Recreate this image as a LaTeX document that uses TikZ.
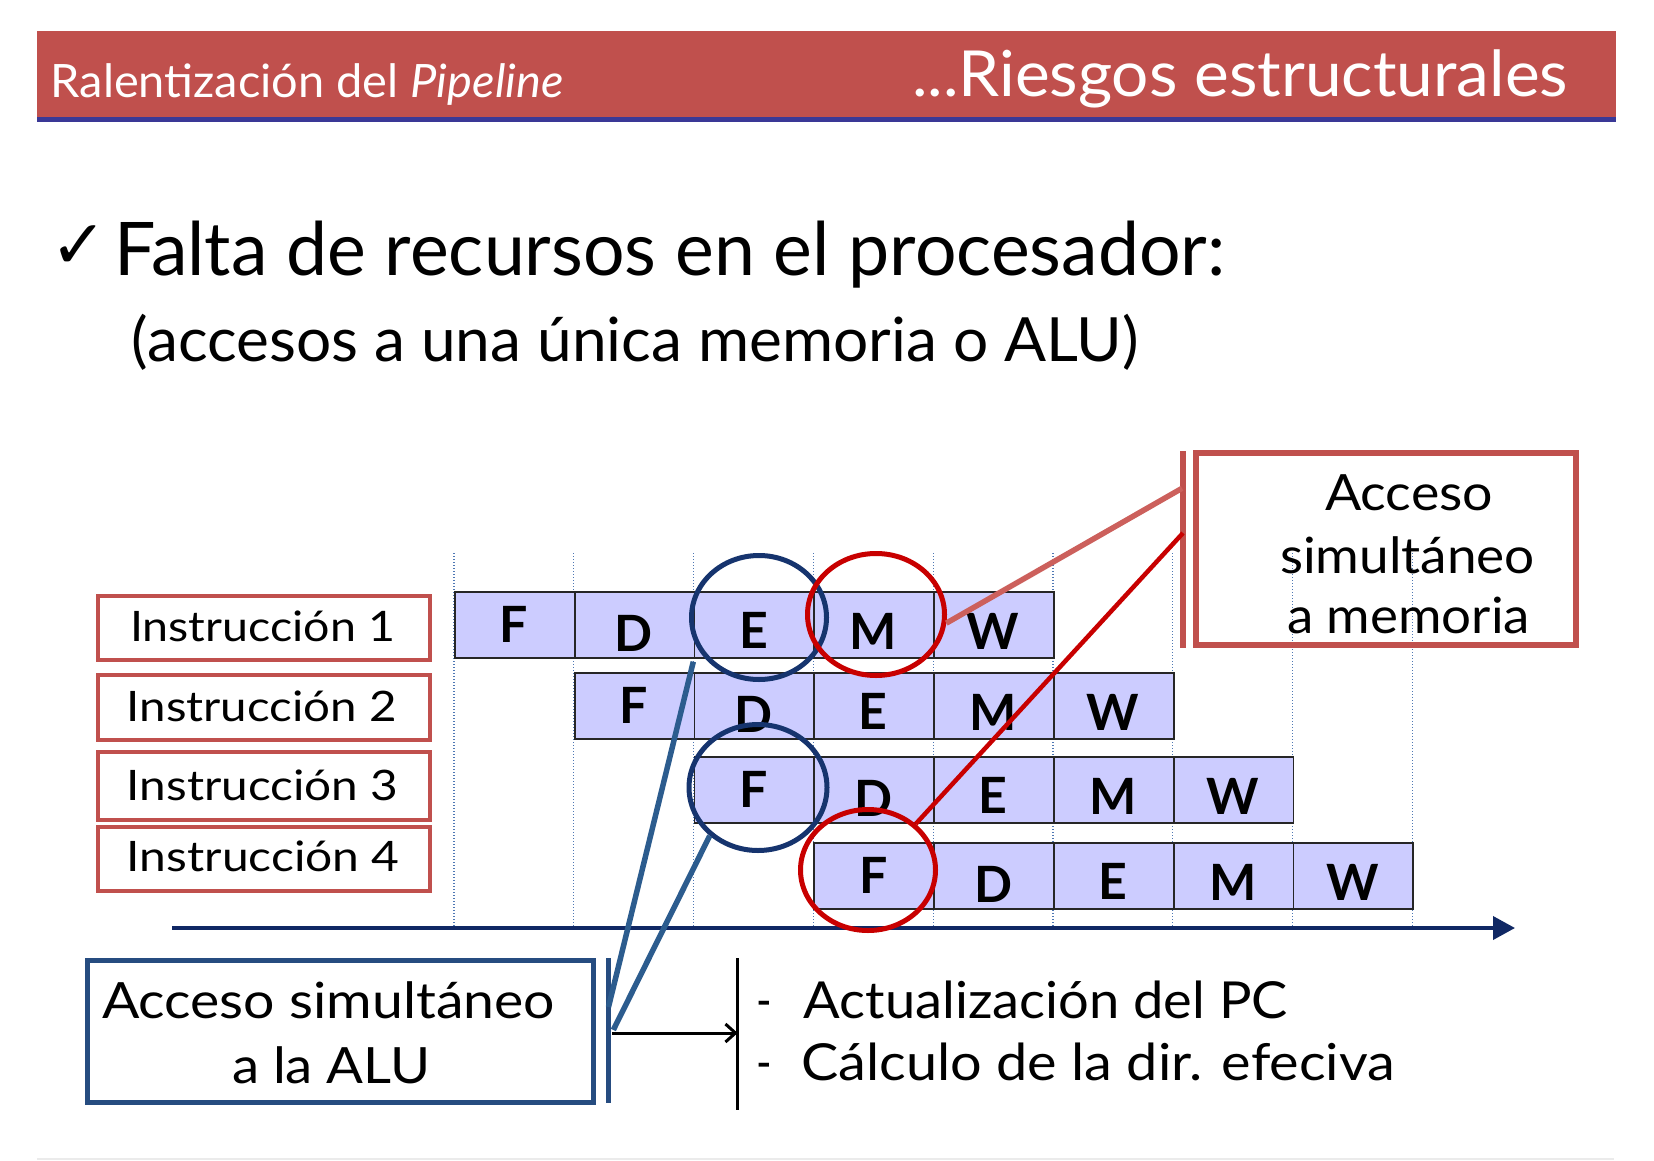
\documentclass[tikz,border=0pt]{standalone}
\usepackage{fontspec}
\usepackage{graphicx}
\setmainfont{Lato}
\newfontfamily\symfont{DejaVu Sans}
\usetikzlibrary{shapes.geometric,arrows.meta}

\definecolor{hdrred}{RGB}{192,80,77}
\definecolor{hdrblue}{RGB}{58,56,150}
\definecolor{cellfill}{RGB}{204,204,255}
\definecolor{gridblue}{RGB}{79,120,180}
\definecolor{navy}{RGB}{22,52,110}
\definecolor{axisblue}{RGB}{16,40,100}
\definecolor{hazred}{RGB}{200,0,0}
\definecolor{softred}{RGB}{204,96,92}
\definecolor{steel}{RGB}{44,92,142}
\definecolor{boxblue}{RGB}{38,76,128}

% text set at size #2 (pt) and stretched to width #1 (pt), height kept
\newcommand\fitw[3]{{\fontsize{#2pt}{#2pt}\selectfont\resizebox{#1pt}{\height}{#3}}}

\tikzset{
  txt/.style={inner sep=0pt, outer sep=0pt, anchor=base west},
  cell/.style={draw=black!85, fill=cellfill, line width=1.8pt, inner sep=0pt,
    minimum width=119.8pt, minimum height=66pt, anchor=north west},
  stage/.style={inner sep=0pt, anchor=base, font=\fontsize{50pt}{50pt}\selectfont\bfseries},
  grid/.style={gridblue, line width=1.3pt, dash pattern=on 1.4pt off 1.6pt},
  ibox/.style={draw=hdrred, line width=4pt, inner sep=0pt, minimum width=331.7pt},
  hazard/.style={ellipse, draw=#1, line width=5pt, inner sep=0pt},
}

\begin{document}
\begin{tikzpicture}[x=1pt,y=-1pt]
\useasboundingbox (0,0) rectangle (1654,1161);
\fill[white] (0,0) rectangle (1654,1161);

% title band
\node[fill=hdrred, inner sep=0pt, minimum width=1579pt, minimum height=86pt, anchor=north west] (hdr) at (37,31) {};
\node[fill=hdrblue, inner sep=0pt, minimum width=1579pt, minimum height=5pt, anchor=north west] (hdrline) at (37,117) {};
\node[txt, white] (hl) at (50.6,98) {\fitw{513}{46}{Ralentización del \textit{Pipeline}}};
\node[txt, white] (hr) at (912,97) {\fitw{656}{63.5}{...Riesgos estructurales}};

% heading
\node[txt] (chk) at (50,268) {\fontsize{68pt}{68pt}\symfont ✓};
\node[txt] (head) at (114.6,275) {\fitw{1111}{74}{Falta de recursos en el procesador:}};
\node[txt] (sub) at (131.8,361.7) {\fitw{1007}{61}{(accesos a una única memoria o ALU)}};

% clock-cycle grid
\foreach \k in {0,...,8}
  \draw[grid] (454+\k*119.8,553) -- (454+\k*119.8,928);

% instruction labels
\node[ibox, minimum height=64.3pt] (i1) at (263.85,628.15) {};
\node[ibox, minimum height=64.4pt] (i2) at (263.85,707.5) {};
\node[ibox, minimum height=67.7pt] (i3) at (263.85,785.85) {};
\node[ibox, minimum height=64.3pt] (i4) at (263.85,859.15) {};
\node[txt] (i1t) at (130,641.7) {\fitw{265}{42}{Instrucción 1}};
\node[txt] (i2t) at (126.7,721.7) {\fitw{270}{42}{Instrucción 2}};
\node[txt] (i3t) at (126.7,800) {\fitw{271.5}{42}{Instrucción 3}};
\node[txt] (i4t) at (126.7,871.7) {\fitw{273}{42}{Instrucción 4}};

% pipeline stages
\foreach \ri/\ytop in {0/591,1/672.3,2/756,3/842} {
  \foreach \si/\L/\dy in {0/F/51,1/D/60,2/E/57,3/M/58,4/W/58} {
    \pgfmathsetmacro\xl{454+(\ri+\si)*119.8}
    \node[cell] (c\ri\si) at (\xl,\ytop) {};
    \node[stage] (s\ri\si) at (\xl+59.9,\ytop+\dy) {\L};
  }
}

% time axis
\coordinate (ax0) at (172,928);
\coordinate (ax1) at (1515,928);
\draw[axisblue, line width=3.8pt, -{Triangle[length=22pt,width=23pt]}] (ax0) -- (ax1);

% hazard marks
\node[hazard=navy, minimum width=135pt, minimum height=124pt] (cE1) at (759,617.5) {};
\node[hazard=navy, minimum width=138pt, minimum height=126pt] (cF3) at (758,787.5) {};
\node[hazard=hazred, minimum width=137pt, minimum height=122pt] (cM1) at (876,614.5) {};
\node[hazard=hazred, minimum width=135pt, minimum height=121pt] (cF4) at (868,870) {};

% memory callout
\node[draw=hdrred, line width=6pt, inner sep=0pt, minimum width=380pt, minimum height=192pt] (mem) at (1386,549) {};
\node[fill=hdrred, inner sep=0pt, minimum width=6pt, minimum height=197pt] (membar) at (1182.7,549.5) {};
\node[txt] (mem1) at (1325,510) {\fitw{168}{50}{Acceso}};
\node[txt] (mem2) at (1280,573) {\fitw{255}{50}{simultáneo}};
\node[txt] (mem3) at (1287,633) {\fitw{243}{50}{a memoria}};
\coordinate (memA) at (1182,488.3);
\coordinate (memB) at (1183,533);
\draw[softred, line width=5.5pt] (cM1.-7) -- (memA);
\draw[hazred, line width=4.5pt] (cF4.44) -- (memB);

% ALU callout
\node[draw=boxblue, line width=5pt, inner sep=0pt, minimum width=506.2pt, minimum height=142pt] (alu) at (340.1,1031.5) {};
\node[fill=boxblue, inner sep=0pt, minimum width=5pt, minimum height=145pt] (alubar) at (608.3,1030.5) {};
\node[txt] (alu1) at (102,1018) {\fitw{453}{50}{Acceso simultáneo}};
\node[txt] (alu2) at (232,1083) {\fitw{198.5}{50}{a la ALU}};
\coordinate (aluTop) at (693.3,661.7);
\coordinate (aluA) at (608.5,1007);
\coordinate (aluB) at (613.3,1030);
\coordinate (aluC) at (612,1033);
\draw[steel, line width=5.5pt] (aluTop) -- (aluA);
\draw[steel, line width=5.5pt] (cF3.225) -- (aluB);

% ALU uses
\coordinate (pcTop) at (737.7,958);
\coordinate (pcBot) at (737.7,1110);
\draw[black, line width=3pt] (pcTop) -- (pcBot);
\draw[black, line width=3pt, -{Straight Barb[length=10pt,width=18pt]}] (aluC) -- (pcTop |- aluC);
\node[txt] (d1) at (756.8,1018) {\fitw{15.6}{51}{-}};
\node[txt] (d2) at (756.8,1080) {\fitw{15.6}{51}{-}};
\node[txt] (u1) at (803.7,1018) {\fitw{484.3}{51}{Actualización del PC}};
\node[txt] (u2) at (801.4,1080) {\fitw{593.6}{51}{Cálculo de la dir. efeciva}};

% footer rule
\coordinate (f0) at (37,1159);
\coordinate (f1) at (1614,1159);
\draw[black!8, line width=1.2pt] (f0) -- (f1);
\end{tikzpicture}
\end{document}
